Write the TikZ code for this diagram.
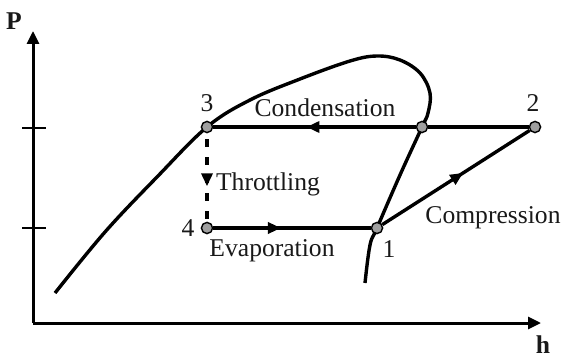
\documentclass[tikz,border=0pt]{standalone}
\usepackage{fontspec}
\setmainfont{Liberation Serif}
\usepackage{tikz}
\usetikzlibrary{arrows.meta}
\usetikzlibrary{decorations.markings}

\tikzset{
  state/.style={circle, draw=black, line width=0.7pt, fill=gray!75, inner sep=0pt, minimum size=5.6pt},
  lbl/.style={font=\fontsize{12.8}{15}\selectfont, text=black!90, inner sep=0pt},
  cyc/.style={line width=1.7pt},
  midarrow/.style={postaction={decorate}, decoration={markings, mark=at position #1 with {\arrow{Triangle[length=6.5pt,width=5.5pt]}}}}
}

\begin{document}
\begin{tikzpicture}[x=0.5pt,y=-0.5pt]
\useasboundingbox (0,0) rectangle (561,358);
\coordinate (O) at (33,323);
\coordinate (Ptop) at (33,31);
\coordinate (hend) at (541,323);
\draw[line width=1.5pt, -{Triangle[length=6.5pt,width=6pt]}] (O) -- (Ptop);
\draw[line width=1.5pt, -{Triangle[length=6.5pt,width=6pt]}] (O) -- (hend);
\draw[line width=0.9pt] (22,128) -- (46,128);
\draw[line width=0.9pt] (22,228) -- (46,228);
\node[lbl, font=\fontsize{12.8}{15}\selectfont\bfseries] (Plbl) at (14,21) {P};
\node[lbl, font=\fontsize{12.8}{15}\selectfont\bfseries] (hlbl) at (543,345) {h};

\draw[cyc] plot[smooth, tension=0.6] coordinates {(55,293) (105,232) (157,177) (207,127) (250,100) (300,79) (350,61) (377,56) (400,60) (420,73) (430,93) (428,113) (422,127) (400,175) (377,228) (370,245) (365,283)};

\node[state] (p3) at (207,127) {};
\node[state] (pv) at (422,127) {};
\node[state] (p2) at (535,127) {};
\node[state] (p4) at (207,228) {};
\node[state] (p1) at (377,228) {};

\draw[cyc] (p2) -- (pv);
\draw[cyc, midarrow=0.54] (pv) -- (p3);
\draw[cyc, midarrow=0.43] (p4) -- (p1);
\draw[cyc, midarrow=0.55] (p1) -- (p2);
\draw[cyc, line width=2pt, dash pattern=on 4pt off 5pt, dash phase=6pt, midarrow=0.6] (p3) -- (p4);

\node[lbl] (l3) at (207,103) {3};
\node[lbl] (l2) at (533,103) {2};
\node[lbl] (l4) at (188,228) {4};
\node[lbl] (l1) at (389,249) {1};
\node[lbl] (cond) at (325,108) {Condensation};
\node[lbl] (thr) at (268,184) {Throttling};
\node[lbl] (evap) at (272,251) {Evaporation};
\node[lbl] (comp) at (493,218) {Compression};
\end{tikzpicture}
\end{document}
